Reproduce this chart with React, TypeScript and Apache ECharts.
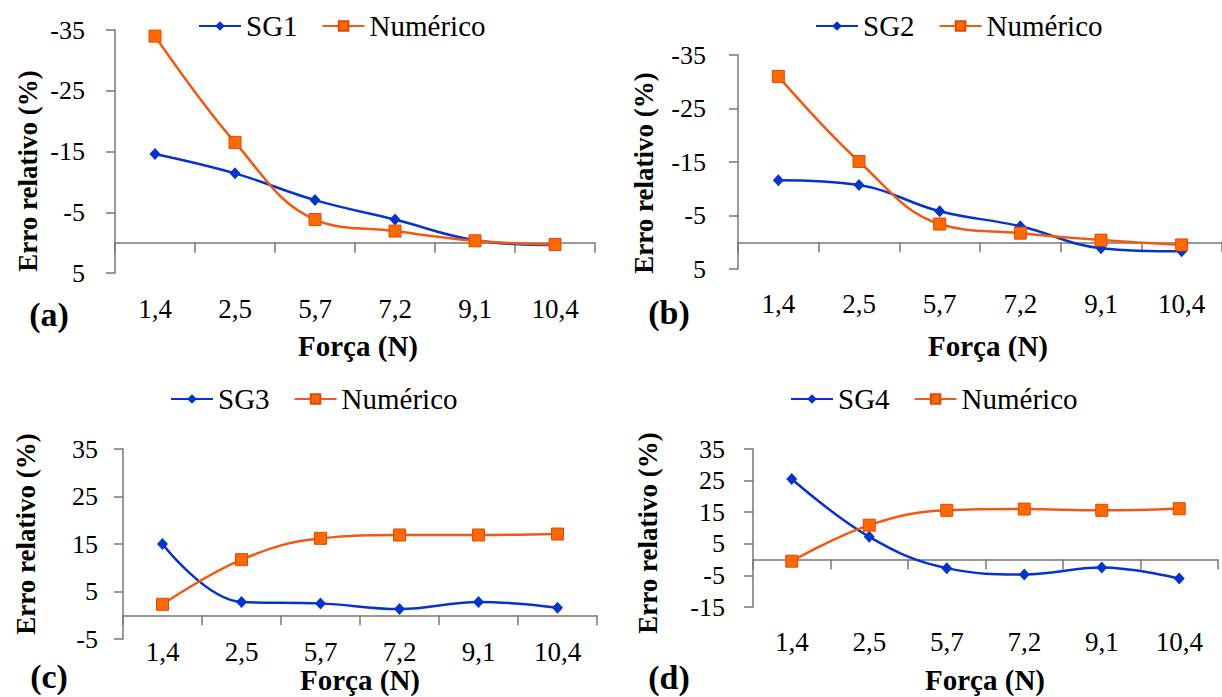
import React, { useEffect, useRef } from "react";
import * as echarts from "echarts";

// ---- data ----
const categories = ["1,4", "2,5", "5,7", "7,2", "9,1", "10,4"];
const sg1 = [-14.6, -11.4, -7.0, -3.8, -0.4, 0.4];
const num1 = [-34.0, -16.5, -3.8, -1.9, -0.3, 0.3];
const sg2 = [-11.6, -10.7, -5.8, -3.0, 1.1, 1.7];
const num2 = [-31.0, -15.1, -3.4, -1.7, -0.4, 0.5];
const sg3 = [15.0, 2.8, 2.5, 1.3, 2.8, 1.6];
const num3 = [2.3, 11.7, 16.2, 16.9, 16.9, 17.1];
const sg4 = [25.5, 7.2, -2.7, -4.7, -2.5, -6.0];
const num4 = [-0.5, 10.9, 15.6, 16.0, 15.6, 16.1];
const ticksAB = [-35, -25, -15, -5, 5];
const ticksC = [-5, 5, 15, 25, 35];
const ticksD = [-15, -5, 5, 15, 25, 35];
const sgNames = ["SG1", "SG2", "SG3", "SG4"];
const numName = "Numérico";
const yTitle = "Erro relativo (%)";
const xTitle = "Força (N)";
const panelLetters = ["(a)", "(b)", "(c)", "(d)"];

// ---- layout / style ----
const FONT = "Times New Roman, Liberation Serif, serif";
const BLUE = "#0633cc";
const ORANGE_LINE = "#f05a14";
const ORANGE_FILL = "#ff6a00";
const ORANGE_BORDER = "#e0480a";
const AXIS = "#777777";

const panels = [
  {
    sg: sg1, num: num1, ticks: ticksAB, min: -35, max: 5, inverse: true,
    grid: { left: 115, top: 30, width: 480, height: 243 },
    legend: { left: 198, top: 11 }, xMargin: 22, yMargin: 30,
    yTitlePos: [28, 171], xTitlePos: [358, 346], letterPos: [49, 314],
  },
  {
    sg: sg2, num: num2, ticks: ticksAB, min: -35, max: 5, inverse: true,
    grid: { left: 738, top: 55, width: 493, height: 214 },
    legend: { left: 815, top: 11 }, xMargin: 21, yMargin: 32,
    yTitlePos: [644, 173], xTitlePos: [988, 346], letterPos: [669, 312],
  },
  {
    sg: sg3, num: num3, ticks: ticksC, min: -5, max: 35, inverse: false,
    grid: { left: 123, top: 449, width: 474, height: 190 },
    legend: { left: 170, top: 384 }, xMargin: -1, yMargin: 25,
    yTitlePos: [26, 534], xTitlePos: [360, 680], letterPos: [49, 676],
  },
  {
    sg: sg4, num: num4, ticks: ticksD, min: -15, max: 35, inverse: false,
    grid: { left: 753, top: 449, width: 465, height: 158 },
    legend: { left: 790, top: 384 }, xMargin: 21, yMargin: 28,
    yTitlePos: [648, 533], xTitlePos: [985, 680], letterPos: [669, 677],
  },
];

export default function App() {
  const ref = useRef<HTMLDivElement>(null);

  useEffect(() => {
    if (!ref.current) return;
    const chart = echarts.init(ref.current, undefined, { renderer: "svg" });

    const grid = panels.map((p) => ({ ...p.grid, containLabel: false }));

    const xAxis: any[] = [];
    panels.forEach((p, i) => {
      xAxis.push({
        type: "category",
        gridIndex: i,
        data: categories,
        position: "bottom",
        axisLine: { show: true, onZero: true, lineStyle: { color: AXIS, width: 1.5 } },
        axisTick: { show: true, length: 10, lineStyle: { color: AXIS, width: 1.5 } },
        axisLabel: { show: false },
        splitLine: { show: false },
      });
      xAxis.push({
        type: "category",
        gridIndex: i,
        data: categories,
        position: "bottom",
        axisLine: { show: false, onZero: false },
        axisTick: { show: false },
        axisLabel: {
          show: true,
          margin: p.xMargin,
          fontFamily: FONT,
          fontSize: 27,
          lineHeight: 27,
          color: "#000",
        },
        splitLine: { show: false },
      });
    });

    const yAxis = panels.map((p, i) => ({
      type: "value",
      gridIndex: i,
      min: p.min,
      max: p.max,
      inverse: p.inverse,
      axisLine: { show: true, onZero: false, lineStyle: { color: AXIS, width: 1.5 } },
      axisTick: { show: true, length: 9, customValues: p.ticks, lineStyle: { color: AXIS, width: 1.5 } },
      axisLabel: {
        show: true,
        customValues: p.ticks,
        margin: p.yMargin,
        fontFamily: FONT,
        fontSize: 26,
        color: "#000",
      },
      splitLine: { show: false },
    }));

    const series: any[] = [];
    panels.forEach((p, i) => {
      series.push({
        type: "line",
        name: sgNames[i],
        xAxisIndex: 2 * i,
        yAxisIndex: i,
        data: p.sg,
        smooth: 0.4,
        symbol: "diamond",
        symbolSize: [11, 12],
        lineStyle: { color: BLUE, width: 2.5 },
        itemStyle: { color: BLUE },
        z: 2,
      });
      series.push({
        type: "line",
        name: numName,
        xAxisIndex: 2 * i,
        yAxisIndex: i,
        data: p.num,
        smooth: 0.4,
        symbol: "rect",
        symbolSize: 12,
        lineStyle: { color: ORANGE_LINE, width: 2.5 },
        itemStyle: { color: ORANGE_FILL, borderColor: ORANGE_BORDER, borderWidth: 1 },
        z: 3,
      });
    });

    const legend = panels.map((p, i) => ({
      left: p.legend.left,
      top: p.legend.top,
      padding: 0,
      orient: "horizontal",
      itemWidth: 42,
      itemHeight: 12,
      itemGap: 24,
      data: [sgNames[i], numName],
      textStyle: { fontFamily: FONT, fontSize: 29, lineHeight: 30, color: "#000" },
    }));

    const graphic: any[] = [];
    panels.forEach((p, i) => {
      graphic.push({
        type: "text",
        x: p.yTitlePos[0],
        y: p.yTitlePos[1],
        rotation: Math.PI / 2,
        style: {
          text: yTitle,
          fontFamily: FONT,
          fontWeight: "bold",
          fontSize: 27,
          fill: "#000",
          align: "center",
          verticalAlign: "middle",
        },
      });
      graphic.push({
        type: "text",
        x: p.xTitlePos[0],
        y: p.xTitlePos[1],
        style: {
          text: xTitle,
          fontFamily: FONT,
          fontWeight: "bold",
          fontSize: 29,
          fill: "#000",
          align: "center",
          verticalAlign: "middle",
        },
      });
      graphic.push({
        type: "text",
        x: p.letterPos[0],
        y: p.letterPos[1],
        style: {
          text: panelLetters[i],
          fontFamily: FONT,
          fontWeight: "bold",
          fontSize: 34,
          fill: "#000",
          align: "center",
          verticalAlign: "middle",
        },
      });
    });

    chart.setOption({
      animation: false,
      backgroundColor: "#ffffff",
      grid,
      xAxis,
      yAxis,
      series,
      legend,
      graphic,
    });

    return () => chart.dispose();
  }, []);

  return (
    <div
      ref={ref}
      style={{ position: "absolute", left: 0, top: 0, width: 1222, height: 697, background: "#fff" }}
    />
  );
}
